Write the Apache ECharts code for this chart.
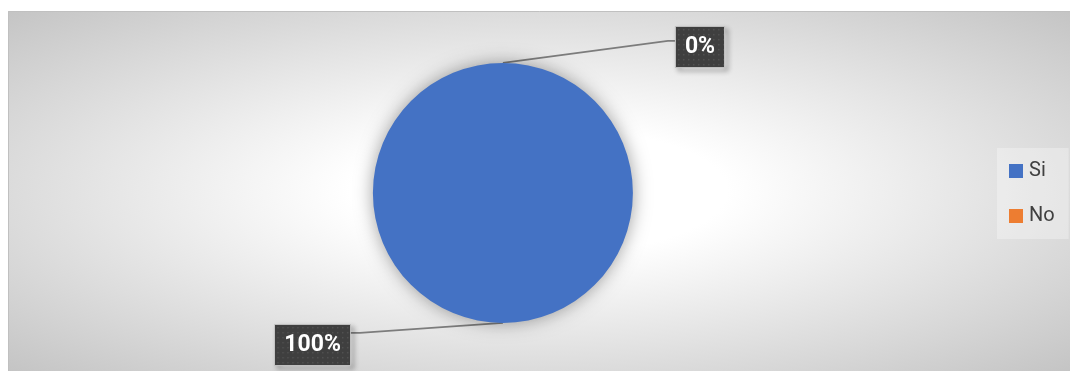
<!DOCTYPE html>
<html>
<head>
<meta charset="utf-8">
<script src="https://cdn.jsdelivr.net/npm/echarts@6/dist/echarts.min.js"></script>
<style>
  html, body { margin: 0; padding: 0; background: #ffffff; }
  #chart { width: 1070px; height: 371px; }
</style>
</head>
<body>
<div id="chart"></div>
<script>
// Answers and their counts (share of responses)
const categories = ['Si', 'No'];
const values = [100, 0];
const sliceColors = ['#4472C4', '#ED7D31'];

const W = 1070, H = 371;
const chart = echarts.init(document.getElementById('chart'), null, { renderer: 'canvas' });

// Plot frame with soft radial shading
const frameX = 8, frameY = 11, frameW = W - frameX, frameH = H - frameY;
const bgSize = frameH;

const pieCenter = ['47%', '52%'];
const pieRadius = 130;
const cx = W * 0.47, cy = H * 0.52;

// Label box styling
const labelFont = 'bold 23px Roboto';
const labelPad = [8, 9];
const labelLineHeight = 24;
const total = values.reduce((a, b) => a + b, 0);

// Dark dotted fill for a label box of the given text
function dottedFill(text) {
  const m = document.createElement('canvas').getContext('2d');
  m.font = labelFont;
  const w = Math.round(m.measureText(text).width + labelPad[1] * 2);
  const h = labelLineHeight + labelPad[0] * 2;
  const c = document.createElement('canvas');
  c.width = w; c.height = h;
  const g = c.getContext('2d');
  g.fillStyle = '#3f3f3f';
  g.fillRect(0, 0, w, h);
  g.fillStyle = '#525252';
  for (let y = 2; y < h; y += 5) {
    for (let x = 2; x < w; x += 5) {
      g.fillRect(x, y, 1.5, 1.5);
    }
  }
  return { image: c };
}

const option = {
  animation: false,
  color: sliceColors,
  graphic: [
    {
      type: 'rect',
      z: -10,
      x: frameX,
      y: frameY,
      scaleX: frameW / bgSize,
      shape: { x: 0, y: 0, width: bgSize, height: bgSize },
      style: {
        fill: new echarts.graphic.RadialGradient(0.5, 0.5, 0.71, [
          { offset: 0, color: '#ffffff' },
          { offset: 0.25, color: '#ffffff' },
          { offset: 1, color: '#c4c4c4' }
        ])
      },
      silent: true
    },
    {
      type: 'rect',
      z: -9,
      shape: { x: frameX + 0.5, y: frameY + 0.5, width: frameW, height: frameH },
      style: { fill: 'none', stroke: '#c0c0c0', lineWidth: 1 },
      silent: true
    }
  ],
  legend: {
    orient: 'vertical',
    left: 997,
    top: 148,
    data: categories,
    icon: 'rect',
    itemWidth: 14,
    itemHeight: 14,
    itemGap: 25,
    padding: [13, 14, 13, 12],
    backgroundColor: 'rgba(255,255,255,0.3)',
    textStyle: {
      fontFamily: 'Roboto',
      fontSize: 20,
      color: '#404040',
      padding: [0, 0, 0, 1]
    }
  },
  series: [
    {
      type: 'pie',
      center: pieCenter,
      radius: pieRadius,
      startAngle: 90,
      clockwise: true,
      avoidLabelOverlap: false,
      data: categories.map((name, i) => ({
        name: name,
        value: values[i],
        label: { backgroundColor: dottedFill(Math.round(values[i] / total * 100) + '%') }
      })),
      itemStyle: {
        shadowBlur: 18,
        shadowColor: 'rgba(0,0,0,0.38)'
      },
      emphasis: { disabled: true },
      label: {
        show: true,
        position: 'outside',
        formatter: '{d}%',
        fontFamily: 'Roboto',
        fontWeight: 'bold',
        fontSize: 23,
        lineHeight: labelLineHeight,
        color: '#ffffff',
        borderColor: '#bfbfbf',
        borderWidth: 2,
        padding: [labelPad[0], labelPad[1], labelPad[0], labelPad[1]],
        shadowColor: 'rgba(0,0,0,0.45)',
        shadowBlur: 5,
        shadowOffsetX: 3,
        shadowOffsetY: 3
      },
      labelLine: {
        show: true,
        length: 20,
        length2: 10,
        lineStyle: { color: '#7c7c7c', width: 1.8 }
      },
      labelLayout: function (p) {
        if (p.dataIndex === 1) {
          const lx = cx + 173, ly = cy - 146;
          return {
            x: lx, y: ly, align: 'left', verticalAlign: 'middle',
            labelLinePoints: [[cx, cy - pieRadius], [lx - 8, ly - 6], [lx, ly - 6]]
          };
        }
        const lx = cx - 153, ly = cy + 152;
        return {
          x: lx, y: ly, align: 'right', verticalAlign: 'middle',
          labelLinePoints: [[cx, cy + pieRadius], [lx + 10, ly - 12], [lx, ly - 12]]
        };
      }
    }
  ]
};

chart.setOption(option);
</script>
</body>
</html>
